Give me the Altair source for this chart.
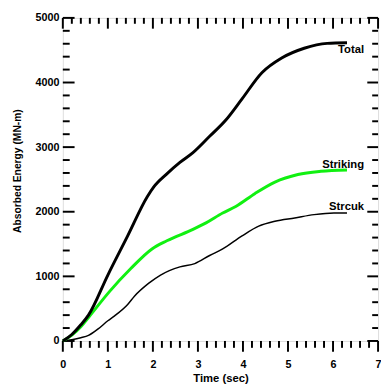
import altair as alt
import pandas as pd

# --- data ---
total_t = [0, 0.2, 0.4, 0.57, 1.0, 1.44, 1.875, 2.02, 2.31, 2.6, 2.89, 3.26, 3.62, 3.98, 4.42, 4.86, 5.36, 5.87, 6.31]
total_e = [0, 100, 250, 400, 1020, 1626, 2232, 2384, 2586, 2763, 2914, 3167, 3420, 3747, 4151, 4379, 4530, 4606, 4616]

strike_t = [0, 0.2, 0.4, 0.57, 1.04, 1.51, 1.98, 2.31, 2.89, 3.18, 3.55, 3.84, 4.27, 4.71, 5.22, 5.73, 6.31]
strike_e = [0, 90, 220, 364, 768, 1121, 1424, 1550, 1727, 1828, 1980, 2080, 2283, 2459, 2576, 2626, 2647]

struck_t = [0, 0.2, 0.4, 0.57, 0.785, 1.0, 1.15, 1.44, 1.59, 1.91, 2.17, 2.6, 2.93, 3.26, 3.55, 3.98, 4.35, 4.71, 5.15, 5.58, 6.02, 6.31]
struck_e = [0, 20, 50, 86, 187, 313, 389, 565, 692, 894, 1020, 1147, 1197, 1323, 1424, 1626, 1777, 1853, 1904, 1955, 1980, 1980]

label_names = ["Total", "Striking", "Strcuk"]
label_t = [6.69, 6.69, 6.69]
label_e = [4505, 2727, 2065]

x_major = [0, 1, 2, 3, 4, 5, 6, 7]
x_minor = [round(i * 0.2, 1) for i in range(36) if i % 5 != 0]
y_major = [0, 1000, 2000, 3000, 4000, 5000]
y_minor = [i * 200 for i in range(26) if i % 5 != 0]

W, H = 322, 330
FONT = "Liberation Sans"

xs = alt.Scale(domain=[0, 7], nice=False)
ys = alt.Scale(domain=[0, 5000], nice=False)

df_total = pd.DataFrame({"t": total_t, "e": total_e})
df_strike = pd.DataFrame({"t": strike_t, "e": strike_e})
df_struck = pd.DataFrame({"t": struck_t, "e": struck_e})
df_lab = pd.DataFrame({"name": label_names, "t": label_t, "e": label_e})
df_xmaj = pd.DataFrame({"v": x_major})
df_xmin = pd.DataFrame({"v": x_minor})
df_ymaj = pd.DataFrame({"v": y_major})
df_ymin = pd.DataFrame({"v": y_minor})

base_axes = alt.Chart(df_total).mark_line(opacity=0).encode(
    x=alt.X("t:Q", scale=xs, title="Time (sec)",
            axis=alt.Axis(values=x_major, format="d", ticks=False, grid=False, domain=False,
                          labelPadding=18, labelFontSize=11, labelFontWeight="bold",
                          labelFont=FONT, titleFont=FONT, titleFontSize=11.5,
                          titleFontWeight="bold", titlePadding=3, labelColor="black",
                          titleColor="black", labelFlush=False)),
    y=alt.Y("e:Q", scale=ys, title="Absorbed Energy (MN-m)",
            axis=alt.Axis(values=y_major, format="d", ticks=False, grid=False, domain=False,
                          labelPadding=4, labelFontSize=11, labelFontWeight="bold",
                          labelFont=FONT, titleFont=FONT, titleFontSize=10.5,
                          titleFontWeight="bold", labelColor="black", titleColor="black",
                          titleX=-46, titleY=156, titleAngle=270, titleAlign="center",
                          titleBaseline="middle", labelFlush=False)),
)

def line(df, color, width):
    return alt.Chart(df).mark_line(color=color, strokeWidth=width, interpolate="monotone").encode(
        x=alt.X("t:Q", scale=xs), y=alt.Y("e:Q", scale=ys))

tot = line(df_total, "black", 3)
stk = line(df_strike, "#11f011", 3)
sck = line(df_struck, "black", 1.5)

labels = alt.Chart(df_lab).mark_text(align="right", baseline="middle", font=FONT,
                                     fontSize=11.5, fontWeight="bold", color="black").encode(
    x=alt.X("t:Q", scale=xs), y=alt.Y("e:Q", scale=ys), text="name:N")

def xticks(df, y0, y1, w):
    return alt.Chart(df).mark_rule(color="black", strokeWidth=w).encode(
        x=alt.X("v:Q", scale=xs), y=alt.value(y0), y2=alt.value(y1))

def yticks(df, x0, x1, w):
    return alt.Chart(df).mark_rule(color="black", strokeWidth=w).encode(
        y=alt.Y("v:Q", scale=ys), x=alt.value(x0), x2=alt.value(x1))

ticks = [
    xticks(df_xmaj, 0, 11, 2), xticks(df_xmin, 0, 6, 2),
    xticks(df_xmaj, H, H + 11, 2), xticks(df_xmin, H, H + 7, 2),
    yticks(df_ymaj, 0, 12, 2), yticks(df_ymin, 0, 7, 2),
    yticks(df_ymaj, W, W - 11, 2), yticks(df_ymin, W, W - 6, 2),
]

chart = alt.layer(base_axes, *ticks, sck, stk, tot, labels).properties(
    width=W, height=H,
    autosize=alt.AutoSizeParams(type="none"),
    padding={"left": 56, "top": 6, "right": 3, "bottom": 47},
).configure_view(stroke="black", strokeWidth=2.5).configure(background="white")

chart.save("out.html", embed_options={"renderer": "svg", "actions": False})
